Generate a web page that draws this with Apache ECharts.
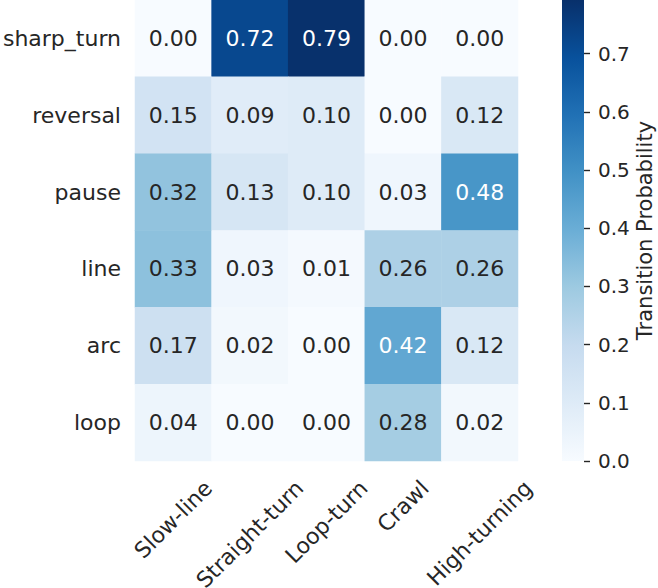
<!DOCTYPE html>
<html><head><meta charset="utf-8">
<script src="https://cdn.jsdelivr.net/npm/echarts@6/dist/echarts.min.js"></script>
<style>html,body{margin:0;padding:0;background:#fff}#c{width:658px;height:588px}</style>
</head><body><div id="c"></div>
<script>
const fromStates = ['sharp_turn', 'reversal', 'pause', 'line', 'arc', 'loop'];
const toStates = ['Slow-line', 'Straight-turn', 'Loop-turn', 'Crawl', 'High-turning'];
const sharpTurnRow = [0.00, 0.72, 0.79, 0.00, 0.00];
const reversalRow  = [0.15, 0.09, 0.10, 0.00, 0.12];
const pauseRow     = [0.32, 0.13, 0.10, 0.03, 0.48];
const lineRow      = [0.33, 0.03, 0.01, 0.26, 0.26];
const arcRow       = [0.17, 0.02, 0.00, 0.42, 0.12];
const loopRow      = [0.04, 0.00, 0.00, 0.28, 0.02];
const colorbarTicks = [0.0, 0.1, 0.2, 0.3, 0.4, 0.5, 0.6, 0.7];
const colorMin = 0;
const colorMax = 0.792;

const rows = [sharpTurnRow, reversalRow, pauseRow, lineRow, arcRow, loopRow];
const blues = ['#f7fbff','#deebf7','#c6dbef','#9ecae1','#6baed6','#4292c6','#2171b5','#08519c','#08306b'];
const dark = '#262626';
const FONT = '"DejaVu Sans", sans-serif';

const data = [];
rows.forEach((r, yi) => r.forEach((v, xi) => {
  data.push({ value: [xi, yi, v], label: { color: v > 0.4 ? '#ffffff' : dark } });
}));

// x-label centring like matplotlib (rotated text centred on the tick)
const ctx = document.createElement('canvas').getContext('2d');
ctx.font = '22px ' + FONT;
const labelMargin = 0;
const gridTop = 0, gridH = 461;
const xData = toStates.map(s => {
  const w = ctx.measureText(s).width;
  const cy = gridTop + gridH + 16 + (w + 21) / (2 * Math.SQRT2);
  const d = cy - (gridTop + gridH + labelMargin);
  const L = Math.max(1, Math.SQRT2 * d);
  return { value: s, textStyle: { align: 'center', verticalAlign: 'top', lineHeight: L,
    fontSize: 22, color: dark, fontFamily: FONT, padding: [0, L, 0, 0] } };
});

// colour bar gradient (value 0 at bottom, max at top), same stops as the visual map
const barGradient = new echarts.graphic.LinearGradient(0, 1, 0, 0,
  blues.map((c, i) => ({ offset: i / (blues.length - 1), color: c })));

const isTick = v => colorbarTicks.some(t => Math.abs(t - v) < 1e-9);

const chart = echarts.init(document.getElementById('c'), null, { renderer: 'svg' });
chart.setOption({
  backgroundColor: '#ffffff',
  animation: false,
  textStyle: { fontFamily: FONT },
  grid: [
    { left: 135, top: gridTop, width: 383, height: gridH, outerBoundsMode: 'none', containLabel: false },
    { left: 562, top: 0, width: 22, height: 461, outerBoundsMode: 'none', containLabel: false,
      show: true, borderWidth: 0, backgroundColor: barGradient },
    { left: 584, top: 0, width: 6, height: 461, outerBoundsMode: 'none', containLabel: false }
  ],
  xAxis: [
    { type: 'category', data: xData, gridIndex: 0, z: 5,
      axisLine: { show: false }, axisTick: { show: false }, splitLine: { show: false },
      axisLabel: { interval: 0, rotate: 45, align: 'center', verticalAlign: 'top',
        margin: labelMargin, fontSize: 22, color: dark, fontFamily: FONT } },
    { type: 'value', gridIndex: 1, show: false, min: 0, max: 1 },
    { type: 'value', gridIndex: 2, show: false, min: 0, max: 1 }
  ],
  yAxis: [
    { type: 'category', data: fromStates, gridIndex: 0, inverse: true,
      axisLine: { show: false }, axisTick: { show: false }, splitLine: { show: false },
      axisLabel: { margin: 14, fontSize: 22, color: dark, fontFamily: FONT } },
    { type: 'value', gridIndex: 1, position: 'right', min: colorMin, max: colorMax, interval: 0.1, z: 10,
      axisLine: { show: false }, splitLine: { show: false }, axisTick: { show: false },
      axisLabel: { margin: 14, fontSize: 20, color: dark, fontFamily: FONT, showMaxLabel: false,
        formatter: v => (isTick(v) ? v.toFixed(1) : '') },
      name: 'Transition Probability', nameLocation: 'middle', nameRotate: 90, nameGap: 50,
      nameTextStyle: { fontSize: 21, color: dark, fontFamily: FONT } },
    { type: 'value', gridIndex: 2, min: colorMin, max: colorMax, interval: 0.1, z: 10,
      axisLine: { show: false }, axisTick: { show: false }, axisLabel: { show: false },
      splitLine: { show: true, showMaxLine: false, lineStyle: { color: dark, width: 1.4 } } }
  ],
  visualMap: {
    type: 'continuous', min: colorMin, max: colorMax, seriesIndex: 0, show: false,
    inRange: { color: blues }
  },
  series: [{
    type: 'heatmap', xAxisIndex: 0, yAxisIndex: 0, data: data,
    itemStyle: { borderWidth: 0 },
    label: { show: true, fontSize: 22, fontFamily: FONT, formatter: p => p.value[2].toFixed(2) },
    emphasis: { disabled: true }
  }]
});
</script></body></html>
